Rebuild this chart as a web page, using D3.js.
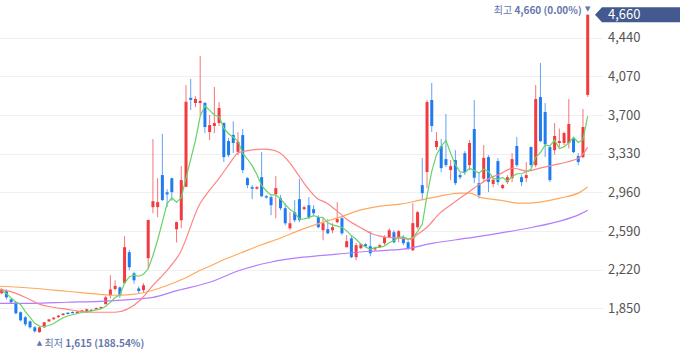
<!DOCTYPE html>
<html><head><meta charset="utf-8">
<script src="https://cdn.jsdelivr.net/npm/d3@7"></script>
<style>html,body{margin:0;padding:0;background:#fff;} svg{display:block;}</style>
</head><body>
<svg id="c" width="680" height="358"></svg>
<script>
// ---- data ----
const opens = [1994,2013,1936,1907,1812,1764,1725,1668,1622,1668,
1725,1745,1765,1785,1808,1815,1805,1815,1812,1835,
1840,1852,1890,1975,2035,2050,2090,2387,2185,2040,
2023,2330,2818,2818,3125,2960,3095,2607,2693,3013,
3864,3815,3815,3815,3537,3595,3623,3623,3451,3510,
3348,3508,3096,3010,2995,3105,2923,2914,2943,2904,
2808,2616,2770,2895,2799,2837,2799,2722,2597,2607,
2597,2674,2712,2434,2520,2339,2425,2463,2444,2415,
2435,2473,2530,2578,2530,2530,2482,2406,2626,3029,
3154,3844,3393,3403,3278,3173,3269,3125,3335,3221,
3566,3048,3090,3297,3040,3259,3000,3058,3096,3403,
3105,3096,3393,3220,3872,3729,3393,3364,3432,3432,
3432,3470,3307,3297,3892];
const highs = [2042,2032,1945,1915,1820,1775,1735,1680,1675,1720,
1748,1765,1785,1805,1812,1820,1822,1835,1848,1838,
1858,1868,1970,2166,2118,2060,2540,2410,2200,2060,
2090,2700,3470,3095,3520,2990,3100,2680,3211,3987,
4045,3880,4265,3825,3700,3968,3825,3630,3480,3640,
3537,3566,3105,3029,3020,3345,2933,2933,3115,2933,
2856,2770,2885,3086,2830,2914,2837,2741,2712,2703,
2664,2866,2731,2550,2550,2473,2473,2473,2588,2435,
2463,2550,2616,2597,2600,2550,2500,2856,2780,3288,
3844,4007,3537,3470,3710,3269,3364,3145,3355,3460,
3844,3153,3412,3316,3090,3288,3040,3125,3335,3490,
3125,3250,3400,3987,4198,3815,3410,3623,3570,3540,
3853,3490,3335,3757,4660];
const lows = [1985,1936,1898,1792,1725,1680,1655,1618,1615,1660,
1720,1740,1760,1780,1790,1800,1800,1812,1808,1830,
1836,1848,1885,1945,2020,1950,2085,2215,2085,1990,
2000,2225,2760,2722,2880,2818,2880,2480,2617,3010,
3748,3775,3700,3527,3460,3527,3595,3250,3297,3335,
3316,3144,3000,2895,2985,2914,2900,2741,2712,2789,
2645,2597,2674,2674,2790,2703,2741,2616,2501,2559,
2568,2664,2549,2434,2330,2310,2415,2435,2348,2400,
2425,2454,2520,2473,2482,2454,2406,2396,2610,2885,
3000,3537,3364,3153,3202,3077,3029,3085,3125,3173,
3048,2900,3058,2962,3010,3029,2990,3040,3058,3202,
3020,3058,3200,3200,3440,3297,3058,3320,3393,3410,
3380,3335,3220,3288,3872];
const closes = [2032,1955,1907,1802,1735,1697,1668,1630,1668,1716,
1744,1760,1780,1800,1795,1805,1818,1830,1840,1835,
1852,1862,1955,2030,2065,1975,2435,2243,2118,2015,
2070,2695,2875,2866,2885,2940,2962,2675,3077,3827,
3845,3854,3835,3585,3604,3623,3767,3297,3316,3432,
3444,3173,3029,2995,3010,2923,2910,2837,3000,2808,
2664,2664,2693,2693,2818,2722,2760,2626,2664,2568,
2626,2703,2568,2492,2339,2454,2463,2444,2377,2425,
2454,2530,2597,2482,2588,2473,2425,2665,2770,2952,
3824,3595,3451,3192,3221,3211,3048,3105,3153,3432,
3100,2933,3290,3060,3080,3058,3029,3105,3278,3221,
3058,3125,3221,3853,3450,3420,3077,3499,3451,3527,
3614,3345,3250,3585,4660];

// moving-average lines
const ma5 = [2023,1990,1950,1910,1886,1819,1762,1706,1680,1676,
1685,1704,1734,1760,1776,1788,1800,1810,1818,1826,
1835,1844,1869,1907,1953,1977,2092,2150,2167,2157,
2176,2228,2355,2504,2678,2852,2906,2866,2908,3096,
3277,3456,3688,3789,3745,3700,3683,3575,3521,3487,
3451,3332,3279,3215,3130,3026,2973,2935,2936,2896,
2844,2795,2766,2704,2706,2718,2737,2724,2718,2668,
2649,2637,2626,2591,2546,2511,2463,2438,2415,2433,
2433,2446,2477,2498,2530,2534,2513,2527,2584,2657,
2927,3161,3318,3403,3457,3334,3225,3155,3148,3190,
3168,3145,3182,3163,3093,3084,3103,3066,3110,3138,
3138,3157,3181,3296,3341,3414,3404,3460,3379,3395,
3434,3487,3437,3464,3690];
const ma20Idx = [-0.4,2.4,5.4,8.1,10.9,13.8,16.6,19.3,22.3,24,26.5,29.3,32,35,37.7,42,44,46.2,48.3,50,51.5,55.3,57.4,58.9,61,62.5,64.6,66.7,68.8,71,73,75.8,78.6,81.5,84.3,86.4,88,90,92.7,95.5,98.5,101.2,103.3,105.4,108.2,111.2,113.9,116.7,119.6,122.4,124];
const ma20Val = [2032,2003,1946,1888,1860,1840,1821,1812,1812,1812,1840,1927,2070,2214,2377,2856,2981,3106,3240,3336,3355,3374,3364,3336,3240,3144,3010,2904,2856,2780,2703,2626,2559,2530,2521,2511,2559,2626,2761,2856,2952,3039,3096,3134,3192,3163,3192,3221,3250,3297,3393];
const ma60Idx = [-0.4,6.6,13.8,20.8,23.6,27.8,32,36.2,39.2,42,44,47.7,50.4,54.7,58.9,63.1,67.4,71.6,75.8,80.1,84.3,88.5,92.7,97,99.1,101.2,105.4,109.7,111.8,113.9,118.1,122.4,124];
const ma60Val = [2061,2042,2013,1984,1975,1984,2023,2090,2147,2214,2253,2329,2377,2454,2521,2598,2665,2722,2789,2828,2847,2885,2924,2952,2952,2914,2885,2856,2856,2866,2904,2962,3010];
const ma120Idx = [-0.4,6.6,13.8,20.8,27.8,32,37.3,44,50.4,56.8,63.8,70.9,77.9,84.9,91.3,98.5,105.4,112.4,118.1,122.4,124];
const ma120Val = [1898,1898,1908,1917,1936,1955,2022,2099,2214,2291,2339,2368,2396,2416,2473,2521,2569,2626,2684,2751,2789];

const yTicks = [1850,2220,2590,2960,3330,3700,4070,4440];
const lastPrice = 4660;
const highText = ["최고", "4,660 (0.00%)"];
const lowText = ["최저", "1,615 (188.54%)"];

// ---- drawing ----
const RED = "#f23a3f", BLUE = "#1f7cf0", FLAT = "#333333";
const svg = d3.select("#c");
const x = d3.scaleLinear().domain([0, closes.length - 1]).range([1.7, 587.7]);
const y = d3.scaleLinear().domain([1850, 4440]).range([308.3, 37.7]);
const FONT = "'Noto Sans CJK KR', 'Noto Sans', sans-serif";

// grid
svg.append("g").selectAll("line").data(yTicks).join("line")
  .attr("x1", 0).attr("x2", 603)
  .attr("y1", d => Math.round(y(d)) + 0.5).attr("y2", d => Math.round(y(d)) + 0.5)
  .attr("stroke", "#f0f0f0").attr("stroke-width", 1);

// right axis labels
const axis = d3.axisRight(y).tickValues(yTicks).tickSize(0).tickPadding(0).tickFormat(d3.format(","));
const ag = svg.append("g").attr("transform", "translate(608,0)").call(axis);
ag.select(".domain").remove();
ag.selectAll("text").attr("fill", "#555").style("font-family", FONT).style("font-size", "13px");

// clip
svg.append("clipPath").attr("id", "plot").append("rect").attr("x", 0).attr("y", 0).attr("width", 593).attr("height", 358);
const plot = svg.append("g").attr("clip-path", "url(#plot)");

const data = closes.map((c, i) => ({ i, o: opens[i], h: highs[i], l: lows[i], c }));
const col = d => d.c > d.o ? RED : (d.c < d.o ? BLUE : FLAT);

plot.append("g").selectAll("line").data(data).join("line")
  .attr("x1", d => x(d.i)).attr("x2", d => x(d.i))
  .attr("y1", d => y(d.h)).attr("y2", d => y(d.l))
  .attr("stroke", col).attr("stroke-width", 1).attr("stroke-opacity", 0.7);
plot.append("g").selectAll("rect").data(data).join("rect")
  .attr("x", d => x(d.i) - 1.5).attr("width", 3)
  .attr("y", d => y(Math.max(d.o, d.c)))
  .attr("height", d => Math.max(1.2, Math.abs(y(d.o) - y(d.c))))
  .attr("fill", col);

// MA lines
const lineIdx = d3.line().x(d => x(d[0])).y(d => y(d[1])).curve(d3.curveMonotoneX);
const mk = (idx, val) => idx.map((k, j) => [k, val[j]]);
plot.append("path").datum(mk(ma120Idx, ma120Val)).attr("d", lineIdx)
  .attr("fill", "none").attr("stroke", "#b47cff").attr("stroke-width", 1.2);
plot.append("path").datum(mk(ma60Idx, ma60Val)).attr("d", lineIdx)
  .attr("fill", "none").attr("stroke", "#ffa95e").attr("stroke-width", 1.2);
plot.append("path").datum(mk(ma20Idx, ma20Val)).attr("d", lineIdx)
  .attr("fill", "none").attr("stroke", "#ff8585").attr("stroke-width", 1.2);
plot.append("path").datum(ma5.map((v, i) => [i, v]))
  .attr("d", d3.line().x(d => x(d[0])).y(d => y(d[1])))
  .attr("fill", "none").attr("stroke", "#66d466").attr("stroke-width", 1.2);

// last price tag
const ty = y(lastPrice);
svg.append("path")
  .attr("d", d3.line()([[595, ty], [602, ty - 7.5], [680, ty - 7.5], [680, ty + 7.5], [602, ty + 7.5]]) + "Z")
  .attr("fill", "#44598f");
svg.append("text").attr("x", 608).attr("y", ty).attr("dy", "0.35em")
  .attr("fill", "#fff").style("font-family", FONT).style("font-size", "13px").text(d3.format(",")(lastPrice));

// high annotation
const maxI = d3.maxIndex(highs), minI = d3.minIndex(lows);
const hx = x(maxI);
svg.append("text").attr("x", hx).attr("y", 10.5).attr("text-anchor", "middle")
  .attr("fill", "#6576ab").style("font-size", "7px").style("font-family", "DejaVu Sans").text("▼");
const ht = svg.append("text").attr("x", hx - 6).attr("y", 14).attr("text-anchor", "end")
  .attr("fill", "#6576ab").style("font-family", FONT).style("font-size", "10px");
ht.append("tspan").text(highText[0] + " ");
ht.append("tspan").attr("font-weight", "bold").text(highText[1]);

// low annotation
const lx = x(minI);
svg.append("text").attr("x", lx).attr("y", 345).attr("text-anchor", "middle")
  .attr("fill", "#6576ab").style("font-size", "7px").style("font-family", "DejaVu Sans").text("▲");
const lt = svg.append("text").attr("x", lx + 5).attr("y", 346.5)
  .attr("fill", "#6576ab").style("font-family", FONT).style("font-size", "10px");
lt.append("tspan").text(lowText[0] + " ");
lt.append("tspan").attr("font-weight", "bold").text(lowText[1]);
</script>
</body></html>
